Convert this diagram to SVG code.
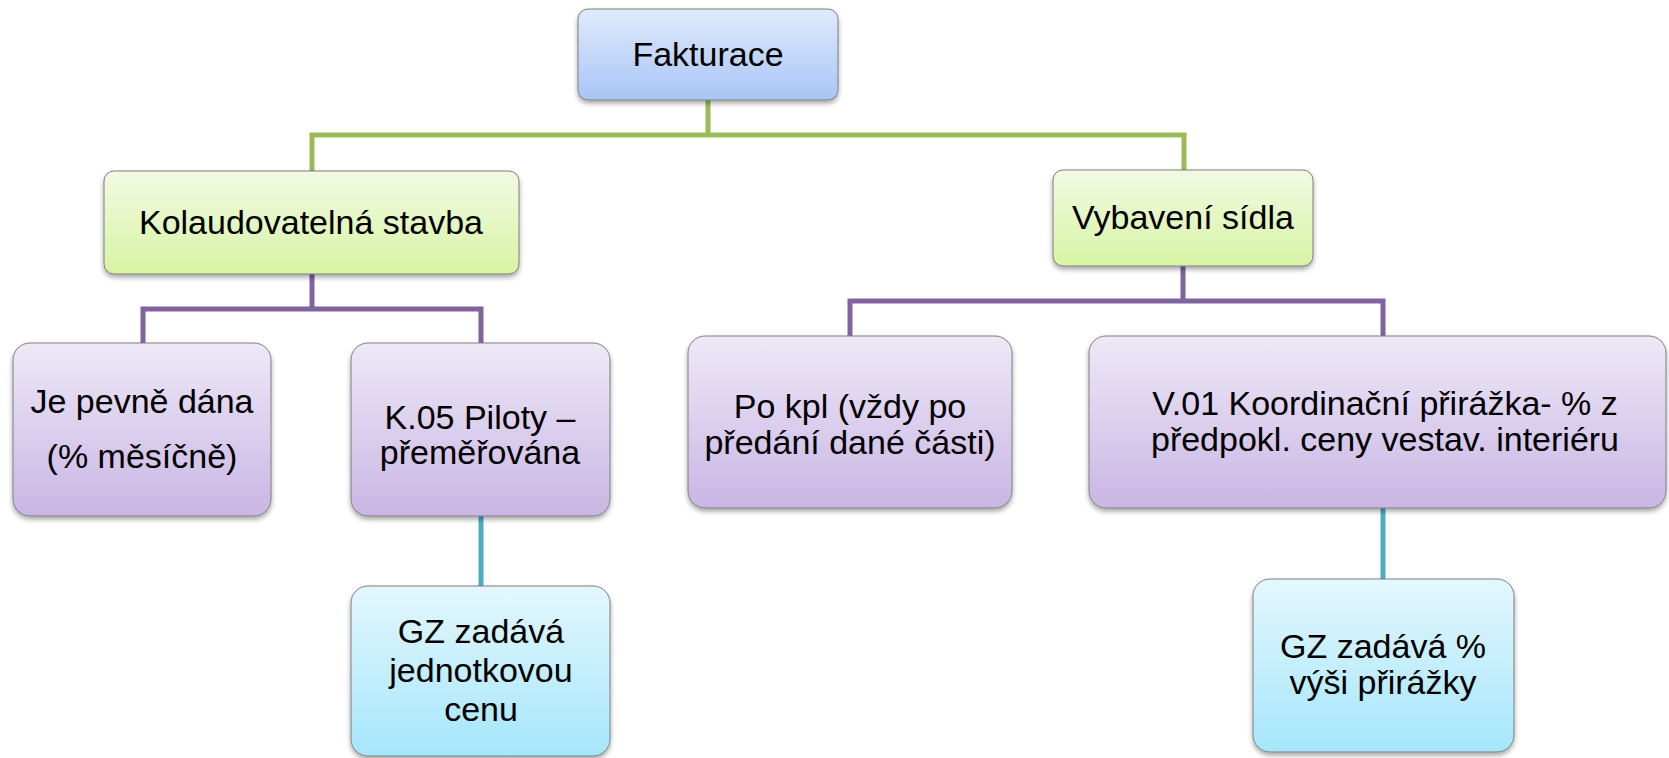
<svg xmlns="http://www.w3.org/2000/svg" width="1669" height="758" viewBox="0 0 1669 758">
<style>
  .t { font-family: "Liberation Sans", Arial, sans-serif; font-size: 34px; fill: #000; text-anchor: middle; }
  .box { stroke: #7f7f7f; stroke-width: 1; filter: url(#sh); }
  .lg { fill: none; stroke: #9BBB59; stroke-width: 5; }
  .lp { fill: none; stroke: #8064A2; stroke-width: 5; }
  .lb { fill: none; stroke: #4BACC6; stroke-width: 5; }
</style>
<defs>
  <filter id="sh" x="-10%" y="-10%" width="120%" height="130%">
    <feDropShadow dx="0" dy="3" stdDeviation="2.5" flood-color="#000" flood-opacity="0.35"/>
  </filter>
  <linearGradient id="gBlue" x1="0" y1="0" x2="0" y2="1">
    <stop offset="0" stop-color="#E0EAFC"/>
    <stop offset="1" stop-color="#A8C5F6"/>
  </linearGradient>
  <linearGradient id="gGreen" x1="0" y1="0" x2="0" y2="1">
    <stop offset="0" stop-color="#F2FAE3"/>
    <stop offset="1" stop-color="#D7F4A4"/>
  </linearGradient>
  <linearGradient id="gPurple" x1="0" y1="0" x2="0" y2="1">
    <stop offset="0" stop-color="#EEE8F7"/>
    <stop offset="1" stop-color="#C9B6E4"/>
  </linearGradient>
  <linearGradient id="gCyan" x1="0" y1="0" x2="0" y2="1">
    <stop offset="0" stop-color="#E4F7FE"/>
    <stop offset="1" stop-color="#A5E6FB"/>
  </linearGradient>
</defs>

<g id="connectors">
  <path class="lg" d="M312 171 V135 H1184 V170 M708 100 V135"/>
  <path class="lp" d="M143 343 V309 H481 V343 M312 274 V309"/>
  <path class="lp" d="M850 336 V301 H1383 V336 M1183 266 V301"/>
  <path class="lb" d="M481 516 V586"/>
  <path class="lb" d="M1383 508 V579"/>
</g>

<g id="n-fakturace">
  <rect class="box" x="578" y="9" width="260" height="91" rx="10" fill="url(#gBlue)"/>
  <text class="t" x="708" y="66">Fakturace</text>
</g>

<g id="n-kolaudovatelna">
  <rect class="box" x="104" y="171" width="415" height="103" rx="10" fill="url(#gGreen)"/>
  <text class="t" x="311" y="234">Kolaudovatelná stavba</text>
</g>

<g id="n-vybaveni">
  <rect class="box" x="1053" y="170" width="260" height="96" rx="10" fill="url(#gGreen)"/>
  <text class="t" x="1183" y="229">Vybavení sídla</text>
</g>

<g id="n-je-pevne">
  <rect class="box" x="13" y="343" width="258" height="173" rx="17" fill="url(#gPurple)"/>
  <text class="t" x="142" y="413">Je pevně dána</text>
  <text class="t" x="142" y="468">(% měsíčně)</text>
</g>

<g id="n-k05">
  <rect class="box" x="351" y="343" width="259" height="173" rx="17" fill="url(#gPurple)"/>
  <text class="t" x="480" y="429">K.05 Piloty –</text>
  <text class="t" x="480" y="464">přeměřována</text>
</g>

<g id="n-pokpl">
  <rect class="box" x="688" y="336" width="324" height="172" rx="17" fill="url(#gPurple)"/>
  <text class="t" x="850" y="418">Po kpl (vždy po</text>
  <text class="t" x="850" y="454">předání dané části)</text>
</g>

<g id="n-v01">
  <rect class="box" x="1089" y="336" width="577" height="172" rx="17" fill="url(#gPurple)"/>
  <text class="t" x="1385" y="415">V.01 Koordinační přirážka- % z</text>
  <text class="t" x="1385" y="451">předpokl. ceny vestav. interiéru</text>
</g>

<g id="n-gz-left">
  <rect class="box" x="351" y="586" width="259" height="170" rx="17" fill="url(#gCyan)"/>
  <text class="t" x="481" y="643">GZ zadává</text>
  <text class="t" x="481" y="682">jednotkovou</text>
  <text class="t" x="481" y="721">cenu</text>
</g>

<g id="n-gz-right">
  <rect class="box" x="1253" y="579" width="261" height="173" rx="17" fill="url(#gCyan)"/>
  <text class="t" x="1383" y="658">GZ zadává %</text>
  <text class="t" x="1383" y="694">výši přirážky</text>
</g>
</svg>
